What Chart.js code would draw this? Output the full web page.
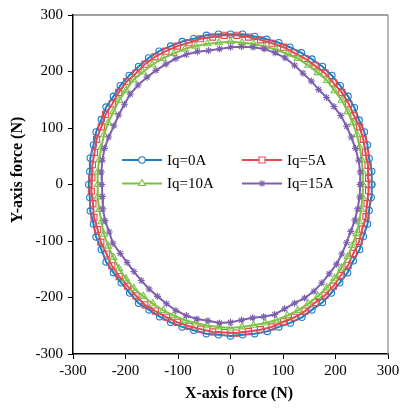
<!DOCTYPE html>
<html>
<head>
<meta charset="utf-8">
<script src="https://cdn.jsdelivr.net/npm/chart.js@4.4.0/dist/chart.umd.min.js"></script>
<style>
  html, body { margin: 0; padding: 0; background: #fff; }
  #wrap { width: 403px; height: 408px; }
</style>
</head>
<body>
<div id="wrap"><canvas id="forceChart"></canvas></div>
<script>
// Force locus for each q-axis current, one sample every 5 degrees of rotor position
const seriesLabels = ['Iq=0A', 'Iq=5A', 'Iq=10A', 'Iq=15A'];
const axisTicks = [-300, -200, -100, 0, 100, 200, 300];

const iq0X = [269,269,264,261,255,245,236,224,209,193,175,155,135,113,92,69,46,23,
  0,-23,-46,-70,-92,-114,-136,-156,-175,-193,-210,-223,-237,-246,-256,-261,-267,-268,
  -270,-268,-267,-261,-256,-246,-237,-223,-208,-192,-175,-155,-135,-114,-92,-70,-46,-23,
  0,23,46,70,92,114,136,155,175,192,208,223,234,246,253,261,264,268];
const iq0Y = [0,23,46,70,93,114,136,156,175,193,209,222,233,243,251,257,262,266,
  266,266,264,258,253,245,236,224,209,193,175,156,137,115,93,70,47,23,
  0,-23,-47,-70,-93,-115,-137,-156,-174,-192,-210,-222,-234,-244,-252,-258,-264,-266,
  -268,-266,-264,-260,-252,-245,-235,-222,-209,-192,-174,-156,-135,-115,-92,-70,-46,-23];

const iq5X = [263,262,257,253,246,235,225,212,196,180,161,142,121,101,79,57,34,12,
  -12,-34,-57,-79,-101,-123,-144,-163,-180,-198,-213,-225,-238,-246,-255,-259,-263,-264,
  -265,-262,-260,-253,-247,-236,-226,-212,-196,-180,-163,-143,-122,-101,-79,-57,-34,-11,
  11,34,57,79,101,122,142,161,180,196,210,224,234,245,251,258,260,263];
const iq5Y = [11,34,57,80,102,122,143,163,180,197,210,223,233,243,250,256,261,264,
  264,261,258,251,245,236,226,213,197,182,163,143,124,102,80,57,35,12,
  -12,-34,-58,-80,-102,-123,-144,-163,-180,-197,-213,-224,-235,-244,-251,-256,-261,-262,
  -263,-260,-257,-252,-243,-235,-224,-209,-196,-180,-161,-143,-122,-101,-79,-57,-34,-11];

const iq10X = [252,252,250,246,241,233,223,212,198,184,166,148,128,108,87,65,44,22,
  0,-22,-44,-66,-87,-108,-129,-149,-167,-185,-199,-212,-223,-233,-241,-246,-250,-253,
  -253,-253,-250,-246,-241,-233,-223,-212,-199,-184,-166,-148,-128,-108,-87,-66,-44,-22,
  0,22,44,66,87,108,128,148,166,183,198,211,223,232,240,245,249,251];
const iq10Y = [0,22,44,66,88,109,129,149,166,184,198,211,223,231,239,244,249,251,
  253,251,249,245,240,232,223,212,199,185,167,149,129,109,88,66,44,22,
  0,-22,-44,-66,-88,-109,-129,-149,-167,-184,-198,-211,-223,-232,-240,-245,-250,-252,
  -254,-252,-249,-245,-240,-232,-223,-211,-198,-183,-166,-148,-128,-108,-87,-66,-44,-22];

const iq15X = [247,247,244,238,230,221,210,197,183,168,154,138,122,104,85,64,43,21,
  0,-21,-42,-63,-84,-104,-123,-142,-159,-176,-191,-202,-213,-222,-232,-240,-244,-246,
  -245,-244,-243,-239,-231,-224,-210,-197,-184,-170,-155,-139,-122,-104,-84,-64,-43,-21,
  0,21,42,63,84,103,122,141,159,174,188,202,212,221,229,237,242,246];
const iq15Y = [0,22,43,64,84,103,122,138,154,168,183,197,211,224,233,240,243,244,
  243,240,237,235,230,223,213,202,190,176,160,142,123,104,84,64,43,22,
  0,-21,-43,-64,-84,-104,-122,-138,-154,-170,-185,-198,-211,-223,-232,-238,-241,-245,
  -244,-240,-236,-234,-230,-220,-210,-201,-189,-174,-158,-141,-123,-103,-83,-63,-43,-22];

const SERIF = "'Liberation Serif', 'Times New Roman', serif";

// zip x/y into points and close the loop
function loop(xs, ys) {
    const pts = xs.map((x, i) => ({ x: x, y: ys[i] }));
    pts.push({ x: xs[0], y: ys[0] });
    return pts;
}

const styles = [
    { color: '#1f7cc4', point: 'circle', radius: 3.2 },
    { color: '#e5484d', point: 'rect', radius: 4.3 },
    { color: '#7cc246', point: 'triangle', radius: 4 },
    { color: '#7d5fae', point: 'star', radius: 3.5 }
];
const loops = [loop(iq0X, iq0Y), loop(iq5X, iq5Y), loop(iq10X, iq10Y), loop(iq15X, iq15Y)];

const datasets = loops.map((pts, i) => ({
    label: seriesLabels[i],
    data: pts,
    showLine: true,
    borderColor: styles[i].color,
    borderWidth: 2,
    pointStyle: styles[i].point,
    pointRadius: styles[i].radius,
    pointBorderColor: styles[i].color,
    pointBackgroundColor: 'rgba(255,255,255,0)',
    pointBorderWidth: 1.1,
    order: 4 - i
}));

// frame, axis titles and the 2x2 legend inside the plot
const decorations = {
    id: 'decorations',
    afterDraw(chart) {
        const ctx = chart.ctx;
        const a = chart.chartArea;
        ctx.save();
        ctx.lineWidth = 1.2;
        ctx.strokeStyle = '#444';
        ctx.beginPath();
        ctx.moveTo(a.left, a.top);
        ctx.lineTo(a.right, a.top);
        ctx.stroke();
        ctx.strokeStyle = '#888';
        ctx.beginPath();
        ctx.moveTo(a.right, a.top);
        ctx.lineTo(a.right, a.bottom);
        ctx.stroke();

        ctx.fillStyle = '#000';
        ctx.font = 'bold 16px ' + SERIF;
        ctx.textAlign = 'center';
        ctx.textBaseline = 'middle';
        ctx.fillText('X-axis force (N)', 239, 394);
        ctx.save();
        ctx.translate(18, 170);
        ctx.rotate(-Math.PI / 2);
        ctx.fillText('Y-axis force (N)', 0, 0);
        ctx.restore();

        const cols = [122, 242];
        const rows = [160, 183.5];
        ctx.font = '15px ' + SERIF;
        ctx.textAlign = 'left';
        datasets.forEach((ds, i) => {
            const x = cols[i % 2];
            const y = rows[Math.floor(i / 2)];
            ctx.strokeStyle = ds.borderColor;
            ctx.lineWidth = 2;
            ctx.beginPath();
            ctx.moveTo(x, y);
            ctx.lineTo(x + 40, y);
            ctx.stroke();
            ctx.fillStyle = '#fff';
            ctx.lineWidth = ds.pointBorderWidth;
            Chart.helpers.drawPoint(ctx, { pointStyle: ds.pointStyle, radius: ds.pointRadius, rotation: 0, borderWidth: ds.pointBorderWidth }, x + 20, y);
            ctx.fillStyle = '#000';
            ctx.fillText(ds.label, x + 45, y + 1);
        });
        ctx.restore();
    }
};

new Chart(document.getElementById('forceChart'), {
    type: 'scatter',
    data: { datasets: datasets },
    options: {
        responsive: true,
        maintainAspectRatio: false,
        animation: false,
        layout: { padding: { top: 15, right: 15, bottom: 0, left: 0 } },
        plugins: { legend: { display: false }, tooltip: { enabled: false } },
        elements: { line: { tension: 0 } },
        scales: {
            x: {
                type: 'linear',
                min: axisTicks[0],
                max: axisTicks[axisTicks.length - 1],
                afterBuildTicks: s => { s.ticks = axisTicks.map(v => ({ value: v })); },
                ticks: { color: '#000', font: { family: SERIF, size: 15 }, padding: 3, maxRotation: 0 },
                grid: { drawOnChartArea: false, drawTicks: true, tickLength: 5, color: '#000' },
                border: { color: '#000', width: 1.5 },
                afterFit: s => { s.height = 54; }
            },
            y: {
                type: 'linear',
                min: axisTicks[0],
                max: axisTicks[axisTicks.length - 1],
                afterBuildTicks: s => { s.ticks = axisTicks.map(v => ({ value: v })); },
                ticks: { color: '#000', font: { family: SERIF, size: 15 }, padding: 5 },
                grid: { drawOnChartArea: false, drawTicks: true, tickLength: 5, color: '#000' },
                border: { color: '#000', width: 1.5 },
                afterFit: s => { s.width = 73; }
            }
        }
    },
    plugins: [decorations]
});
</script>
</body>
</html>
